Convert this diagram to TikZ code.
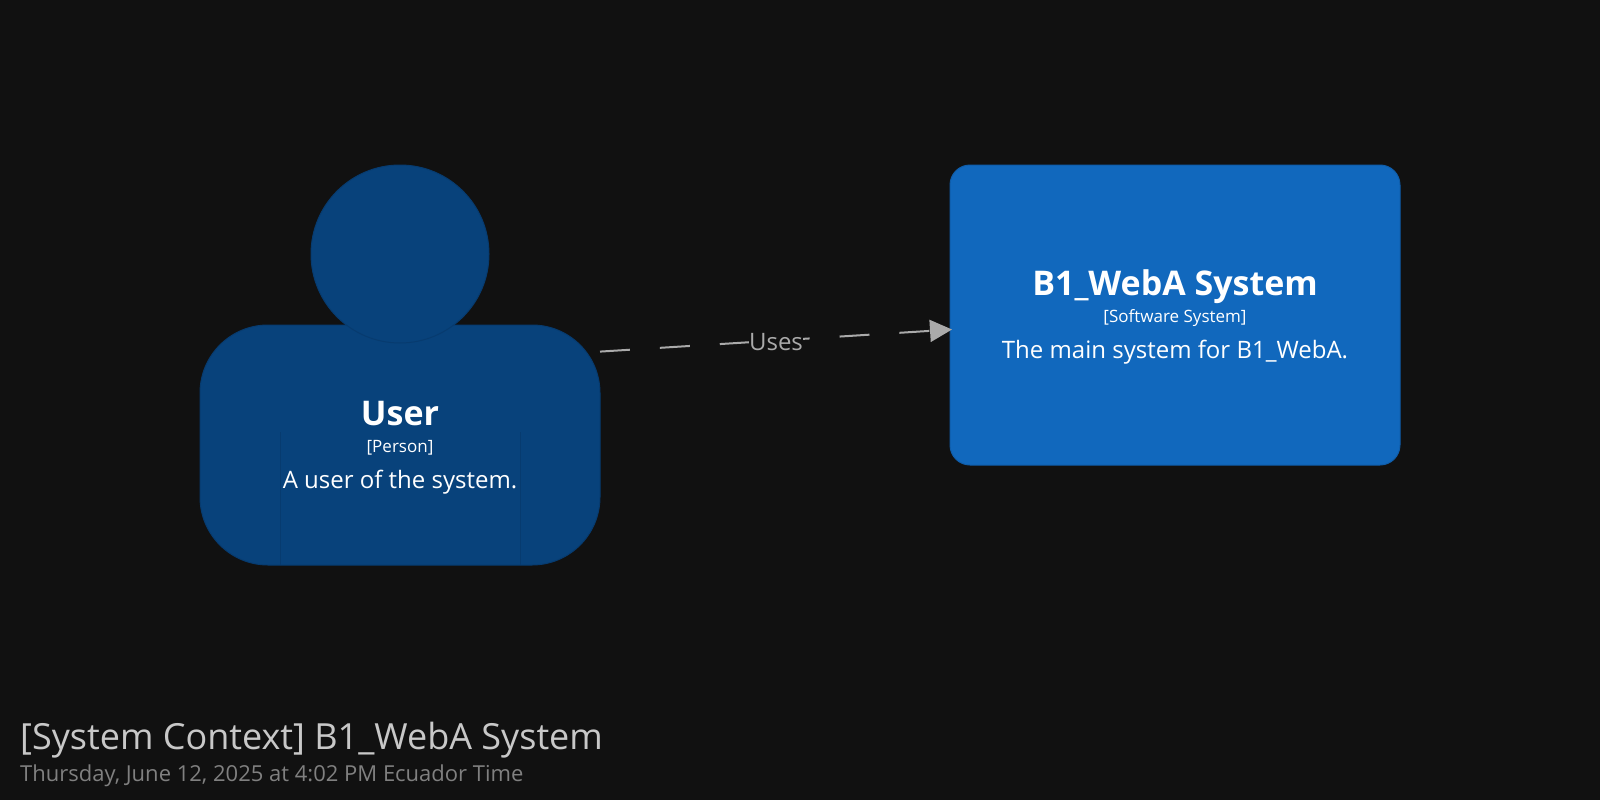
\documentclass[tikz,border=0pt]{standalone}
\usepackage{fontspec}
\setmainfont{Open Sans}
\usetikzlibrary{arrows.meta}
\definecolor{bgcol}{HTML}{111111}
\definecolor{personcol}{HTML}{08427B}
\definecolor{personline}{HTML}{073B6F}
\definecolor{systemcol}{HTML}{1168BD}
\definecolor{systemline}{HTML}{0F5DAA}
\definecolor{linkcol}{HTML}{AAAAAA}
\tikzstyle{person}=[draw=personline, fill=personcol, line width=1pt, outer sep=0pt]
\tikzstyle{system}=[draw=systemline, fill=systemcol, line width=1pt, outer sep=0pt, rounded corners=20pt]
\tikzstyle{titletext}=[anchor=base, text=white, font=\bfseries\fontsize{34}{40}\selectfont, inner sep=0pt]
\tikzstyle{metatext}=[anchor=base, text=white, font=\fontsize{17}{20}\selectfont, inner sep=0pt]
\tikzstyle{desctext}=[anchor=base, text=white, font=\fontsize{24}{28}\selectfont, inner sep=0pt]
\begin{document}
\begin{tikzpicture}[x=1pt,y=-1pt]
	\fill[bgcol] (0,0) rectangle (1600,800);
	\useasboundingbox (0,0) rectangle (1600,800);
	\node[person, rounded corners=68pt, minimum width=400pt, minimum height=240pt] (B)at(400,445){};
	\node[person, circle, minimum size=178pt] (H)at(400,254){};
	\draw[personline, line width=1pt] (280,432)--(280,565);
	\draw[personline, line width=1pt] (520,432)--(520,565);
	\node[system, minimum width=450pt, minimum height=300pt] (S)at(1175,315){};
	\node[titletext] (U)at(400,425){User};
	\node[metatext] (P)at(400,452.7){[Person]};
	\node[desctext] (D)at(400,488){A user of the system.};
	\node[titletext] (N)at(1175,295){B1\_WebA System};
	\node[metatext] (T)at(1175,322.7){[Software System]};
	\node[desctext] (M)at(1175,358){The main system for B1\_WebA.};
	\node[anchor=base west, inner sep=0pt, text=linkcol!65!white, font=\fontsize{36}{42}\selectfont] (C)at(20,749){[System Context] B1\_WebA System};
	\node[anchor=base west, inner sep=0pt, text=gray, font=\fontsize{22}{26}\selectfont] (E)at(20,781){Thursday, June 12, 2025 at 4:02 PM Ecuador Time};
	\draw[linkcol, line width=2pt, dash pattern=on 30pt off 30pt, -{Triangle[length=22pt,width=22pt]}] ([yshift=93.4pt]B.east)--node[midway, fill=bgcol, inner sep=0pt, yshift=-1pt, text=linkcol, font=\fontsize{24}{28}\selectfont] (L){Uses}([xshift=2pt,yshift=-14.5pt]S.west);
\end{tikzpicture}
\end{document}
